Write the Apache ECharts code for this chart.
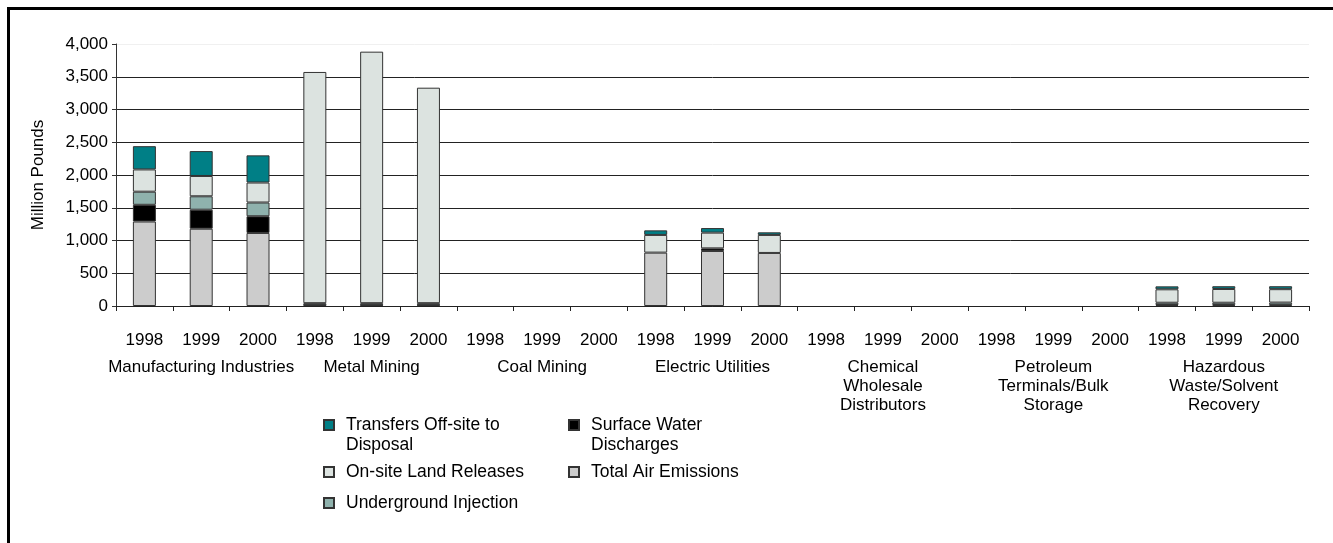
<!DOCTYPE html>
<html>
<head>
<meta charset="utf-8">
<script src="https://cdn.jsdelivr.net/npm/echarts@6/dist/echarts.min.js"></script>
<style>
html,body{margin:0;padding:0;background:#fff;}
#chart{width:1333px;height:543px;}
</style>
</head>
<body>
<div id="chart"></div>
<script>
const groups = ['Manufacturing Industries', 'Metal Mining', 'Coal Mining', 'Electric Utilities',
  'Chemical\nWholesale\nDistributors', 'Petroleum\nTerminals/Bulk\nStorage', 'Hazardous\nWaste/Solvent\nRecovery'];
const years = ['1998', '1999', '2000'];
const yTicks = [0, 500, 1000, 1500, 2000, 2500, 3000, 3500, 4000];

const airEmissions = [1290, 1180, 1115, 15, 15, 15, null, null, null, 815, 840, 810, null, null, null, null, null, null, 15, 15, 14];
const surfaceWater = [255, 290, 255, 3, 3, 3, null, null, null, null, 40, null, null, null, null, null, null, null, null, null, null];
const undergroundInj = [200, 205, 210, 25, 25, 25, null, null, null, null, null, null, null, null, null, null, null, null, 35, 35, 38];
const landReleases = [340, 310, 305, 3530, 3840, 3290, null, null, null, 270, 240, 275, null, null, null, null, null, null, 205, 210, 205];
const transfersDisposal = [355, 380, 415, null, null, null, null, null, null, 70, 70, 40, null, null, null, null, null, null, 45, 42, 45];

const categories = [];
groups.forEach(function () { years.forEach(function (y) { categories.push(y); }); });

const FONT = 'Arial, "Liberation Sans", sans-serif';
const chart = echarts.init(document.getElementById('chart'));

function bar(name, data, color) {
  return {
    name: name, type: 'bar', stack: 'total', data: data, barWidth: 23,
    xAxisIndex: 0, yAxisIndex: 0,
    itemStyle: { color: color, borderColor: '#333', borderWidth: 1 },
    emphasis: { disabled: true }
  };
}

function legendItem(name, left, top, twoLine) {
  return {
    left: left, top: top, padding: 0, itemWidth: 10, itemHeight: 10, itemGap: 0,
    icon: 'rect', selectedMode: false,
    data: [{ name: name }],
    formatter: function (n) { return twoLine ? '\n' + n : n; },
    textStyle: {
      fontFamily: FONT, fontSize: 17.5, color: '#000', lineHeight: 20,
      padding: [0, 0, 0, 7]
    }
  };
}

const splitColors = yTicks.map(function (v, i) { return i === yTicks.length - 1 ? '#f0f0f0' : '#222'; });

chart.setOption({
  animation: false,
  backgroundColor: '#fff',
  graphic: [{
    type: 'rect', silent: true,
    shape: { x: 8.5, y: 8.5, width: 1400, height: 600 },
    style: { fill: 'none', stroke: '#000', lineWidth: 3 }
  }],
  grid: { left: 116, right: 24, top: 44, bottom: 237, containLabel: false },
  xAxis: [{
    type: 'category', data: categories, position: 'bottom',
    axisLine: { lineStyle: { color: '#222', width: 1 } },
    axisTick: { show: true, alignWithLabel: false, length: 5, lineStyle: { color: '#222' } },
    axisLabel: { interval: 0, margin: 25, fontFamily: FONT, fontSize: 17, color: '#000', lineHeight: 19 }
  }, {
    type: 'category', data: groups, position: 'bottom',
    axisLine: { show: false }, axisTick: { show: false },
    axisLabel: { interval: 0, margin: 52, fontFamily: FONT, fontSize: 17, color: '#000', lineHeight: 19, align: 'center' }
  }],
  yAxis: [{
    type: 'value', min: 0, max: 4000, interval: 500,
    name: 'Million Pounds', nameLocation: 'middle', nameGap: 69, nameRotate: 90,
    nameTextStyle: { fontFamily: FONT, fontSize: 17, color: '#000' },
    axisLine: { show: true, lineStyle: { color: '#333' } },
    axisTick: { show: true, length: 4, lineStyle: { color: '#333' } },
    axisLabel: {
      margin: 8, fontFamily: FONT, fontSize: 17, color: '#000',
      formatter: function (v) { return v.toLocaleString('en-US'); }
    },
    splitLine: { show: true, lineStyle: { color: splitColors, width: 1 } }
  }],
  legend: [
    legendItem('Transfers Off-site to\nDisposal', 323, 395, true),
    legendItem('On-site Land Releases', 323, 462, false),
    legendItem('Underground Injection', 323, 493, false),
    legendItem('Surface Water\nDischarges', 568, 395, true),
    legendItem('Total Air Emissions', 568, 462, false)
  ],
  series: [
    bar('Total Air Emissions', airEmissions, '#cccccc'),
    bar('Surface Water\nDischarges', surfaceWater, '#000000'),
    bar('Underground Injection', undergroundInj, '#8fb2ad'),
    bar('On-site Land Releases', landReleases, '#dce3e0'),
    bar('Transfers Off-site to\nDisposal', transfersDisposal, '#007f86')
  ]
});
</script>
</body>
</html>
